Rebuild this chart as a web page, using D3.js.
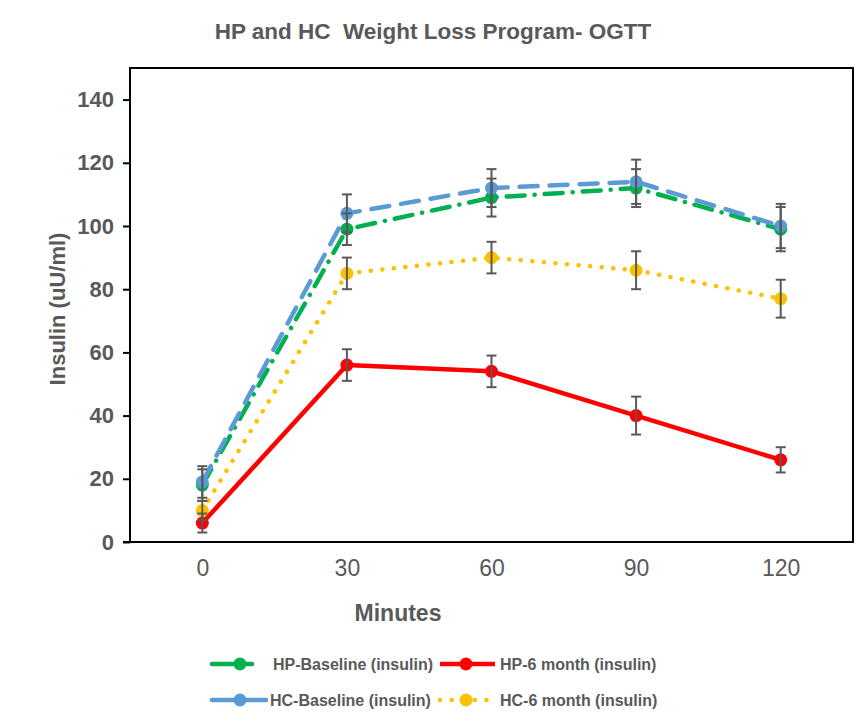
<!DOCTYPE html>
<html><head><meta charset="utf-8">
<script src="https://cdn.jsdelivr.net/npm/d3@7"></script>
<style>body{margin:0;background:#fff;}svg{display:block;font-family:"Liberation Sans",Arial,sans-serif;}</style>
</head><body>
<svg id="c" width="866" height="728"></svg>
<script>
const categories = ["0","30","60","90","120"];
const yTicks = [0,20,40,60,80,100,120,140];
const seriesNames = ["HP-Baseline (insulin)","HP-6 month (insulin)","HC-Baseline (insulin)","HC-6 month (insulin)"];
const hpBaseline = [18, 99, 109, 112, 99];
const hpBaselineErr = [5, 5, 6, 6, 7];
const hp6month = [6, 56, 54, 40, 26];
const hp6monthErr = [3, 5, 5, 6, 4];
const hcBaseline = [19, 104, 112, 114, 100];
const hcBaselineErr = [5, 6, 6, 7, 7];
const hc6month = [10, 85, 90, 86, 77];
const hc6monthErr = [3, 5, 5, 6, 6];

const svg = d3.select("#c");
const L=130,R=853,T=68,B=542;
const x = d3.scalePoint().domain(categories).range([L,R]).padding(0.5);
const y = d3.scaleLinear().domain([0,150]).range([B,T]);

const styles = [
  {color:"#00B050", dash:"18 10 0.1 10"},
  {color:"#FF0000", dash:null},
  {color:"#5B9BD5", dash:"18 12"},
  {color:"#FFC000", dash:"0.1 11.5"}
];
const series = [
  {name:seriesNames[0], v:hpBaseline, e:hpBaselineErr, s:styles[0]},
  {name:seriesNames[1], v:hp6month, e:hp6monthErr, s:styles[1]},
  {name:seriesNames[2], v:hcBaseline, e:hcBaselineErr, s:styles[2]},
  {name:seriesNames[3], v:hc6month, e:hc6monthErr, s:styles[3]}
];

// title
svg.append("text").attr("x",433).attr("y",39).attr("text-anchor","middle")
  .attr("font-size",22.5).attr("font-weight","bold").attr("fill","#595959")
  .attr("xml:space","preserve").text("HP and HC  Weight Loss Program- OGTT");

// plot box
svg.append("rect").attr("x",L).attr("y",T).attr("width",R-L).attr("height",B-T)
  .attr("fill","none").attr("stroke","#000").attr("stroke-width",2);

// y axis
const yAxis = d3.axisLeft(y).tickValues(yTicks).tickSize(7).tickPadding(9);
const gy = svg.append("g").attr("transform",`translate(${L},0)`).call(yAxis);
gy.select(".domain").remove();
gy.selectAll(".tick line").attr("stroke","#000").attr("stroke-width",2);
gy.selectAll(".tick text").attr("font-size",22).attr("font-weight","bold").attr("fill","#595959")
  .attr("font-family","Liberation Sans, Arial, sans-serif");

// x axis
const xAxis = d3.axisBottom(x).tickSize(0).tickPadding(18);
const gx = svg.append("g").attr("transform",`translate(0,${B})`).call(xAxis);
gx.select(".domain").attr("d",`M${L-7},0H${R}`).attr("stroke","#000").attr("stroke-width",2);
gx.selectAll(".tick text").attr("font-size",23).attr("fill","#595959")
  .attr("font-family","Liberation Sans, Arial, sans-serif");

// axis titles
svg.append("text").attr("x",398).attr("y",621).attr("text-anchor","middle")
  .attr("font-size",23).attr("font-weight","bold").attr("fill","#595959").text("Minutes");
svg.append("text").attr("transform","translate(65,309) rotate(-90)").attr("text-anchor","middle")
  .attr("font-size",22).attr("font-weight","bold").attr("fill","#595959").text("Insulin (uU/ml)");

const line = d3.line().x((d,i)=>x(categories[i])).y(d=>y(d));

series.forEach(sr=>{
  const g = svg.append("g");
  g.append("path").datum(sr.v).attr("d",line).attr("fill","none")
    .attr("stroke",sr.s.color).attr("stroke-width",4.5)
    .attr("stroke-linecap", sr.s.dash ? "round" : "butt")
    .attr("stroke-linejoin","round")
    .attr("stroke-dasharray",sr.s.dash);
  g.selectAll("circle").data(sr.v).join("circle")
    .attr("cx",(d,i)=>x(categories[i])).attr("cy",d=>y(d)).attr("r",6.5)
    .attr("fill",sr.s.color);
});

// error bars
series.forEach(sr=>{
  const g = svg.append("g").attr("stroke","#595959").attr("stroke-width",2);
  sr.v.forEach((v,i)=>{
    const cx = x(categories[i]);
    const y1 = y(v+sr.e[i]), y2 = y(v-sr.e[i]);
    g.append("line").attr("x1",cx).attr("x2",cx).attr("y1",y1).attr("y2",y2);
    g.append("line").attr("x1",cx-5).attr("x2",cx+5).attr("y1",y1).attr("y2",y1);
    g.append("line").attr("x1",cx-5).attr("x2",cx+5).attr("y1",y2).attr("y2",y2);
  });
});

// legend
const legendPos = [
  {x0:212,x1:252,mx:240,tx:273,ty:664},
  {x0:440,x1:495,mx:466,tx:500,ty:664},
  {x0:212,x1:266,mx:240,tx:270,ty:700},
  {x0:440,x1:492,mx:466,tx:500,ty:700}
];
series.forEach((sr,k)=>{
  const p = legendPos[k];
  const g = svg.append("g");
  g.append("line").attr("x1",p.x0).attr("x2",p.x1).attr("y1",p.ty).attr("y2",p.ty)
    .attr("stroke",sr.s.color).attr("stroke-width",4.5)
    .attr("stroke-linecap", k===1 ? "butt" : "round")
    .attr("stroke-dasharray", k===3 ? "0.1 11.5" : null);
  g.append("circle").attr("cx",p.mx).attr("cy",p.ty).attr("r",6.5).attr("fill",sr.s.color);
  g.append("text").attr("x",p.tx).attr("y",p.ty+6).attr("font-size",16).attr("font-weight","bold")
    .attr("fill","#595959").text(sr.name);
});
</script>
</body></html>
